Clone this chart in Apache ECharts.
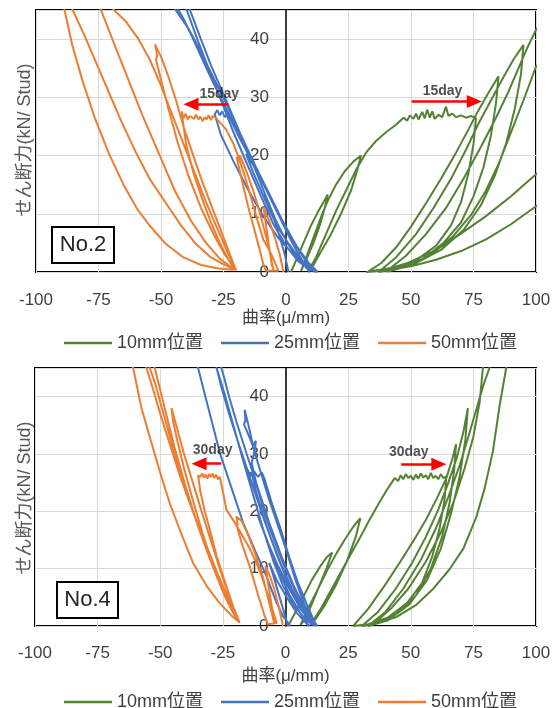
<!DOCTYPE html>
<html><head><meta charset="utf-8">
<script src="https://cdn.jsdelivr.net/npm/echarts@6/dist/echarts.min.js"></script>
<style>html,body{margin:0;padding:0;background:#fff}#c{width:559px;height:708px}</style>
</head><body><div id="c"></div>
<script>
const seriesNames = ['10mm位置', '25mm位置', '50mm位置'];
const panelNames = ['No.2', 'No.4'];
const creepLabels = ['15day', '30day'];
const xAxisName = '曲率(μ/mm)';
const yAxisName = 'せん断力(kN/ Stud)';

// ---- No.2 ----
const no2_10mm = [
[2,0],[4,2],[7,5],[10,8],[13,10.5],[15,12],[16.7,13.3],
[15.5,11],[13.5,8],[11,5],[8.5,2.5],[6,0.2],
[8.5,3],[11.5,6.5],[14.5,10],[17,12.5],[20,15],[23.5,17.3],[27,19],[30,20],
[28.5,17.5],[26,14],[22,10],[18,6.5],[14,3.5],[11,1.2],[9,0.2],
[12,2.5],[16,6.5],[20,10.5],[24,14],[28,17.5],[32,20.5],[36,22.5],[40,24],[44,25.3],[47,26.5],
[48.5,26.0],[49.5,26.9],[51,26.3],[52,27.2],[53,26.2],[54.5,27.5],[55.5,26.4],[56.5,27.9],[57.5,26.5],[58.5,27.6],[59.5,26.3],[61,27.0],[62.5,26.6],[64,28.4],[65,26.8],[66.5,27.2],[68,26.6],[70,26.9],[72,26.5],[74,26.8],[76,26.4],
[75,22],[73,17],[70,12],[66,8],[60,4.5],[52,2],[42,0.7],[33,0.1],
[38,1.5],[44,4.2],[50,7.8],[56,11.8],[62,16],[68,20.5],[73,24.5],[77,27.8],[81,30.8],[85,33.6],
[84,29],[82,23.5],[79,18],[75,13],[70,8.5],[63,5],[55,2.3],[46,0.7],[37,0],
[44,2.5],[52,6.5],[59,11],[66,16],[72,21],[77,25.5],[82,29.5],[87,33.5],[91,36.5],[95,39],
[94,34],[91.5,28],[88,22],[83.5,16.5],[78,11.5],[71,7.2],[62,3.8],[51,1.3],[40,0.1],
[48,2.8],[56,6.5],[64,11],[71,16],[78,21.5],[84,26.5],[89,31],[93,35],[96.5,38.5],[100,41.6],[104,44],[108,47],
[112,47],[112,40],[100,35.3],[95,29.5],[90,24],[85,18.5],[80,14],[74,9.8],[67,6.2],[59,3.3],[50,1.2],[41,0.1],
[50,1.8],[60,3.8],[70,6.6],[80,9.6],[90,13],[100,16.8],[110,20.5],
[112,14],[100,11.3],[90,8.2],[80,5.6],[70,3.6],[60,2.1],[50,1],[40,0.3],[32,0]
];
const no2_25mm = [
[1,0],[-0.5,3],[-2.5,6],[-5,9.5],[-7,11.8],[-9,13.3],
[-6.5,10.5],[-3,7.5],[1,4.8],[5,2.5],[8,0.8],[9.5,0],
[6.5,2],[2.5,5],[-1.5,8.5],[-5.5,12],[-9.5,15.5],[-13,18.3],[-16,20.3],
[-13,17],[-8.5,12.5],[-4,8.5],[0.5,5.2],[5,2.6],[9,0.9],[11.5,0],
[8,1.8],[3.5,5],[-1,8.5],[-6,12.5],[-11,16.8],[-15.5,20.5],[-19.5,23.8],[-22.5,26.5],
[-23.5,27.2],[-24.5,26.6],[-25.5,27.6],[-26.5,26.9],[-27.5,27.8],[-28.5,27.1],
[-26,23.5],[-21,19],[-15,14],[-9,9.5],[-3,5.8],[3,3],[8,1.2],[12,0],
[8.5,1.7],[4,4.5],[-1,8.2],[-6,12.5],[-11,16.8],[-16,21],[-21,25.5],[-26,29.8],[-30.5,33.8],[-34.5,37.5],[-38,40.8],[-41,43.5],[-43,45],[-46,48],
[-40,49],[-38.4,45],[-34.5,40.5],[-30,35.5],[-25,30.5],[-20,25.5],[-14.5,20],[-9,14],[-4,8.8],[0.5,5],[5,2.2],[9.5,0.6],[12.7,0],
[9,1.6],[4.5,4.3],[-0.5,8],[-6,12.8],[-12,18],[-18,23.5],[-24,29],[-29.5,33.8],[-34.5,38.2],[-39,41.8],[-43,44.3],[-46.4,46.5],[-50,50],
[-42,50],[-39.7,45],[-35.5,40],[-31,35],[-26,29.5],[-21,24],[-15.5,18.5],[-10,13],[-5,8.2],[0,4.5],[5,1.8],[10.5,0.2]
];
const no2_50mm = [
[-1,0],[-2.5,3],[-4.5,6],[-6.5,8.5],[-9,11.2],
[-8,8],[-6.8,4.5],[-5.8,1.5],[-5,0.2],
[-6.5,3.5],[-8.5,7],[-11,11],[-13.5,14.5],[-16,17.5],[-18.4,20],[-19.3,19.2],[-19.8,19.8],
[-17.5,15.5],[-15,11],[-12.5,7],[-10.5,3.8],[-9,1.2],[-8,0.2],[-3,0.2],
[-5,2.2],[-7,4],[-9.1,5.6],[-11.5,9],[-14,12.8],[-16.5,16.5],[-18.8,19.5],[-21,22],[-24,24.5],[-27.7,26.3],
[-28.5,26.0],[-29.3,26.8],[-30,26.1],[-31,26.9],[-31.8,26.2],[-32.5,26.6],[-33.4,25.9],[-34.2,26.7],[-35,26.2],[-36,27.0],[-36.8,26.3],[-37.6,26.0],[-38.5,26.8],[-39.3,26.2],[-40.2,27.2],[-41,26.4],[-41.7,27.6],[-41.2,25.8],
[-40,22],[-37,17],[-33.5,12.5],[-30,8.5],[-26.5,5],[-23.5,2.5],[-21,0.7],[-20,0.3],
[-22,2.5],[-25.5,6.5],[-29.5,11],[-33.5,15.5],[-37.5,20.5],[-41,25],[-44,29.5],[-47,33.5],[-50,37],[-52.4,39.1],[-51.5,37.2],[-52,36.5],
[-50,33],[-47,28],[-43.5,22.5],[-39,16.5],[-34,11],[-29,6.5],[-24.5,3],[-21,0.9],[-20,0.4],
[-23,3],[-27.5,7.5],[-32,12],[-36.5,17],[-41,22],[-45.5,27],[-50,32],[-54.5,36.5],[-59,40],[-64,43],[-70,45.5],[-76,48],
[-80,50],[-74,45],[-69,39.5],[-63.5,33.5],[-57.5,27],[-51,20.5],[-44.5,14],[-38,8.8],[-32,5],[-26.5,2.3],[-22,0.8],[-20.3,0.4],
[-25,1.3],[-30,2.5],[-36,4.8],[-42,8],[-48,11.8],[-54.4,15.9],[-60,20.5],[-66,26],[-71,31],[-76,36],[-80.5,40.5],[-85.3,45],[-88,48],
[-92,50],[-88.6,45],[-85.5,39],[-81.5,33],[-76.5,26.5],[-71,20.5],[-65,15],[-59.5,10.8],[-54.4,7.9],[-48,4.8],[-41,2.5],[-34,1.2],[-27,0.6],[-21,0.4]
];

// ---- No.4 ----
const no4_10mm = [
[1,0],[3.5,2],[7,5],[10.5,8],[14,10.5],[16.5,12],[18.6,12.8],
[16.5,10.2],[13.5,7],[10.5,3.8],[8,1.3],[6,0.2],
[9,3],[13,6.5],[17,10],[20.5,12.8],[24,15.3],[27.2,17.4],[29.9,18.8],
[28,15.5],[24.5,11.3],[20,7],[15.5,3.5],[12,1.2],[10,0.2],
[14.5,3.3],[19.5,7.3],[24.5,11.3],[29.5,15.2],[33.5,18.5],[37.5,21.6],[41,24.1],[43.6,25.8],
[45,25.3],[46,26.3],[47,25.6],[48,26.5],[49,25.8],[50,26.2],[51,25.5],[52,26.4],[53,25.7],[54,26.6],[55,25.9],[56,26.3],[57,25.6],[58,26.7],[59,25.8],[60,26.2],[61,25.6],[62,26.5],[63,25.8],[64.2,26.1],
[63.5,22],[61.5,17],[58.5,12],[54.5,7.5],[48.5,4],[41,1.5],[33,0.3],[27,0],
[33,3],[39.5,7],[45.5,11],[51,14.8],[56,18.5],[60.5,22.3],[64.2,25.8],[66.5,29],[68.1,31.7],
[67.3,27],[65.5,21.5],[62.5,15.5],[58,10],[52,5.3],[44,2],[36,0.4],[30.5,0],
[37,2.5],[44,6.5],[50.5,11],[56,15.5],[61,20.3],[65,25],[68.5,29.5],[71,33.8],[72.8,38],
[71.8,32.5],[69.5,26],[66,19.5],[62,13.5],[56.5,8],[49.5,3.8],[41,1],[33,0],
[40,2.5],[47,6.5],[54,11.5],[60,17],[65,22.5],[69.5,28],[73,33],[76,37.5],[79,42],[81.4,45],[83,48],
[89,48],[88.1,45],[85.5,38.5],[82.8,30.5],[79.5,24],[76.1,18.9],[71,13.5],[65.5,9.9],[59,6.5],[52.2,3.7],[44,1.5],[35,0.3],
[42,3],[49,6.5],[56,11.2],[62,16.3],[67,21.5],[71.5,27.5],[75,33],[77.5,39],[78.8,45],[80,48]
];
const no4_25mm = [
[1,0],[-1,3],[-3,6],[-5,9],[-6.5,11],
[-3.5,8],[0.5,5],[4.5,2.3],[8,0.6],[9.5,0],
[6,2.2],[1.5,5.5],[-2.5,9.5],[-6.5,14],[-9.5,17.5],[-11,19.2],
[-7.5,15],[-3,10.5],[1.5,6.5],[6,3],[9.5,1],[11.5,0],
[7.5,2.5],[2.5,6.5],[-2,11],[-6,15.5],[-9,19.5],[-11.5,23],[-13,25.8],
[-13.8,26.8],[-14.5,25.9],[-15.2,27.3],[-14,26.2],[-12.5,27],[-11,26],[-9.5,26.8],[-8.5,25.8],
[-5.5,21.5],[-2,17],[1.5,12],[5,7.5],[8.5,3.8],[11,1.3],[12.3,0],
[8.5,2.3],[3.5,6.5],[-1,11],[-5,15.5],[-8.5,20],[-11.5,24.5],[-13.5,28.5],[-12.3,30.5],[-11.8,32.3],[-13,31.5],[-14.5,34.5],[-16.3,37.7],[-16,35.8],[-16.6,35.2],
[-13.5,32],[-10,27],[-6.5,22],[-3,17.5],[0.5,13],[4,8],[7.5,3.8],[10.5,1.2],[12.7,0],
[8.5,2.5],[3.5,6.8],[-1.5,12],[-6.5,18],[-11,24],[-15.5,30],[-19.5,35.5],[-22.5,40],[-24.9,44],[-26,45.5],[-28,48],
[-29,48],[-27.5,45],[-24,40],[-20.5,34.5],[-17,29],[-13,23],[-9,17],[-5,11.5],[-1,7],[3.5,3.5],[8,1.2],[11,0.2],
[6.5,2.8],[1.5,7],[-3.5,12.5],[-8.5,18.5],[-13.5,25],[-18.5,31.5],[-22.5,37],[-25.5,41.5],[-27.5,45],[-29,48],
[-37,48],[-34.9,45],[-30.5,37.5],[-26.2,30.2],[-21.5,24],[-16.9,18],[-12,13],[-7.6,8.7],[-4,4.5],[-1,1.7],[2,0]
];
const no4_50mm = [
[-1,0],[-2.5,3],[-4.5,6.5],[-6.5,9],[-8,10.5],
[-6.8,7],[-5.5,3.5],[-4.5,0.5],
[-6.5,4],[-9,8.5],[-12,12.5],[-15,16],[-17.5,18.3],[-19.6,19.1],[-19,17.5],[-19.8,18],
[-17.5,14.5],[-14,10],[-11,5.5],[-8.5,2],[-7,0.3],[-3.5,0.5],
[-5.5,3.3],[-7.5,6],[-9.5,8.7],[-11.6,11],[-14.5,13.7],[-17.5,16],[-20.5,18.2],[-23.6,20.3],[-24.8,23],[-26.2,26],
[-27,25.6],[-27.7,26.4],[-28.4,25.8],[-29.1,26.6],[-29.8,26],[-30.5,26.5],[-31.2,25.7],[-31.9,26.4],[-32.6,25.9],[-33.3,26.6],[-34.1,26],[-34.9,26.3],
[-34,23.5],[-32.2,20],[-30.2,16.8],[-27.5,12.2],[-25,8.8],[-22.5,5.5],[-20.2,2.5],[-18.3,0.6],
[-21.5,4],[-25.5,9],[-29.5,14.5],[-33.5,20],[-37,25],[-40.5,30],[-43,34],[-45.5,38],[-44.8,35.5],
[-43,32],[-40.5,27.5],[-37,22],[-33,16],[-28.5,10],[-24,5],[-20.5,2],[-18.5,0.6],
[-22,3.5],[-27,8.5],[-32,14],[-37,20],[-41.5,26],[-45.5,32],[-49,37.5],[-52.2,42.5],[-54.2,45],[-56,48],
[-63,48],[-60.8,45],[-57.5,38],[-54.2,33],[-50.2,27],[-46.2,21.4],[-41.5,16],[-36.9,11],[-31.5,7],[-26.3,4],[-21.5,1.8],[-18.3,0.6],
[-22,4],[-27,9],[-32,14.5],[-37,20],[-42,26],[-46,31.5],[-50,37],[-53,41.5],[-55.5,45],[-57,48],
[-55,48],[-52.2,45],[-48.5,38.5],[-44.5,31.5],[-40,24.5],[-35,17.5],[-30,11.5],[-25.5,6.5],[-21.5,2.8],[-18.5,0.6]
];

// creep annotation arrows (data coords: start -> end) and label anchors
const no2Arrows = [[[50.3,29.3],[75.3,29.3]], [[-23.1,28.8],[-38,28.8]]];
const no2LabelPos = [[62.6,31.0],[-26.7,30.5]];
const no4Arrows = [[[46.2,28.2],[61.2,28.2]], [[-25.6,28.3],[-34.5,28.3]]];
const no4LabelPos = [[49.2,30.4],[-29.1,30.7]];

const panels = [
  {data:[no2_10mm, no2_25mm, no2_50mm], arrows:no2Arrows, labels:no2LabelPos},
  {data:[no4_10mm, no4_25mm, no4_50mm], arrows:no4Arrows, labels:no4LabelPos}
];
const colors = ['#548235', '#4472C4', '#ED7D31'];
const FF = "'Liberation Sans','Noto Sans CJK JP',sans-serif";
const TXT = '#404040';

const grids = [
  {left:36, top:10, width:500, height:262},
  {left:35, top:368, width:501, height:258}
];

const series = [];
panels.forEach((p, i) => {
  p.data.forEach((d, k) => {
    series.push({
      type:'line', name:seriesNames[k], xAxisIndex:i, yAxisIndex:i,
      data:d, symbol:'none', showSymbol:false, smooth:false, clip:true, silent:true,
      lineStyle:{width:2, color:colors[k]}, itemStyle:{color:colors[k]}
    });
  });
  series.push({
    type:'scatter', xAxisIndex:i, yAxisIndex:i, symbolSize:1, silent:true, z:10,
    itemStyle:{color:'transparent'},
    data:p.labels.map(v => ({value:v, name:creepLabels[i]})),
    label:{show:true, position:'inside', formatter:'{b}', fontSize:14, fontWeight:'bold', color:'#262626', fontFamily:FF},
    markLine:{silent:true, symbol:['none','triangle'], symbolSize:[13,15], animation:false,
      lineStyle:{color:'#ff0000', width:2.5, type:'solid'}, label:{show:false},
      emphasis:{disabled:true},
      data:p.arrows.map(a => [{coord:a[0]},{coord:a[1]}])}
  });
});

const option = {
  animation:false,
  backgroundColor:'#ffffff',
  grid: grids.map(g => Object.assign({show:true, borderColor:'#000', borderWidth:2, backgroundColor:'transparent'}, g)),
  xAxis: [0,1].map(i => ({
    type:'value', gridIndex:i, min:-100, max:100, interval:25,
    axisLine:{show:false}, axisTick:{show:false},
    splitLine:{show:true, lineStyle:{color:'#d9d9d9', width:1}},
    axisLabel:{color:TXT, fontSize:17, margin: i ? 19 : 20, fontFamily:FF},
    name:xAxisName, nameLocation:'middle', nameGap: i ? 42 : 31,
    nameTextStyle:{color:TXT, fontSize:17, fontFamily:FF}
  })),
  yAxis: [0,1].map(i => ({
    type:'value', gridIndex:i, min:0, max:45, interval:10,
    position:'left', offset: -grids[i].width / 2,
    axisLine:{show:true, onZero:false, lineStyle:{color:'#000', width:1.5}},
    axisTick:{show:false},
    splitLine:{show:true, lineStyle:{color:'#d9d9d9', width:1}},
    axisLabel:{color:TXT, fontSize:17, margin:17, fontFamily:FF,
      formatter: v => (v % 10 === 0 ? String(v) : '')}
  })),
  legend: [329, 688].map(t => ({
    top:t, left:59, itemWidth:48, itemHeight:2.5, itemGap:18, icon:'rect',
    data:seriesNames, selectedMode:false,
    textStyle:{color:TXT, fontSize:18, fontFamily:FF}
  })),
  graphic: [
    {type:'text', x:25, y:140, rotation:Math.PI/2, z:100,
      style:{text:yAxisName, fontSize:18, fill:'#595959', align:'center', verticalAlign:'middle', fontFamily:FF}},
    {type:'text', x:25, y:498, rotation:Math.PI/2, z:100,
      style:{text:yAxisName, fontSize:18, fill:'#595959', align:'center', verticalAlign:'middle', fontFamily:FF}},
    {type:'rect', shape:{x:52, y:227, width:62, height:36}, z:100,
      style:{fill:'#fff', stroke:'#000', lineWidth:2}},
    {type:'text', x:83, y:245, z:101,
      style:{text:panelNames[0], fontSize:22, fill:'#262626', align:'center', verticalAlign:'middle', fontFamily:FF}},
    {type:'rect', shape:{x:57, y:582, width:61, height:36}, z:100,
      style:{fill:'#fff', stroke:'#000', lineWidth:2}},
    {type:'text', x:87.5, y:600, z:101,
      style:{text:panelNames[1], fontSize:22, fill:'#262626', align:'center', verticalAlign:'middle', fontFamily:FF}}
  ],
  series: series
};
const chart = echarts.init(document.getElementById('c'), null, {renderer:'canvas'});
chart.setOption(option);
</script>
</body></html>
